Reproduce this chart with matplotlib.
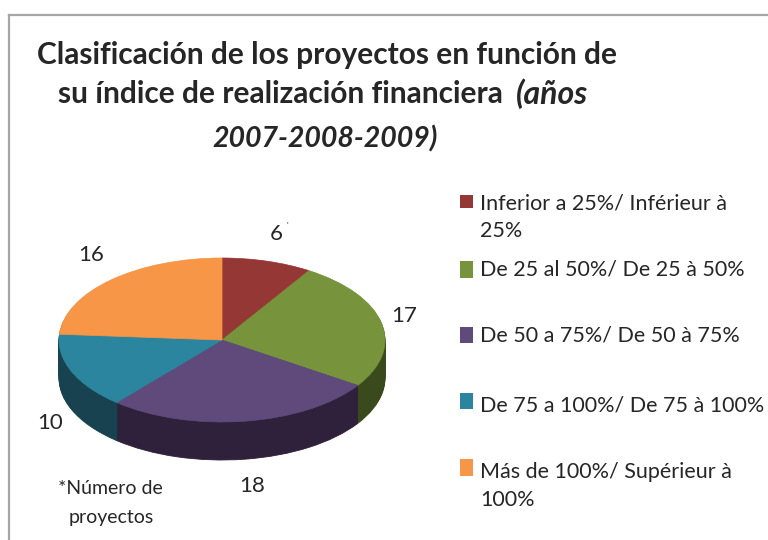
import matplotlib
matplotlib.use('Agg')
import matplotlib.pyplot as plt
from matplotlib.patches import Rectangle
from matplotlib.lines import Line2D

plt.rcParams['font.family'] = ['Lato', 'DejaVu Sans']

W = 768
H = 540

categories = ['Inferior a 25%/ Inférieur à\n25%',
              'De 25 al 50%/ De 25 à 50%',
              'De 50 a 75%/ De 50 à 75%',
              'De 75 a 100%/ De 75 à 100%',
              'Más de 100%/ Supérieur à\n100%']
values = [6, 17, 18, 10, 16]
top_colors = ['#953735', '#77933C', '#604A7B', '#2C859E', '#F79646']
side_colors = ['#4F1D1C', '#3A4A1C', '#2F213B', '#18424F', '#7F4A1E']

# pixel positions of the texts, same order as values
label_pos = [(276, 234), (404, 316), (252, 486), (50, 423), (91, 255)]
swatch_bottom = [208, 278, 343, 409, 476]
swatch_height = [13, 17, 16, 16, 17]
legend_text_y = [202, 268, 335, 404, 471]

text_color = '#262626'

# ellipse of the top face, in pixels
cx, cy = 222, 340
rx, ry = 163, 82
depth = 38

fig = plt.figure(figsize=(W / 100, H / 100), dpi=100)
ax = fig.add_axes([0, 0, 1, 1])


def px(x, y):
    return x / W, 1 - y / H


# side wall: the same pie stacked downwards, then the top face
for d in range(depth, 0, -1):
    wedges, _ = ax.pie(values, colors=side_colors, startangle=90, counterclock=False,
                       center=(0, -d / ry), radius=1)
    for w in wedges:
        w.set_edgecolor(w.get_facecolor())
        w.set_linewidth(0.6)
wedges, _ = ax.pie(values, colors=top_colors, startangle=90, counterclock=False,
                   center=(0, 0), radius=1)
for w in wedges:
    w.set_edgecolor(w.get_facecolor())
    w.set_linewidth(0.5)

ax.set_aspect('auto')
ax.set_xlim(-cx / rx, (W - cx) / rx)
ax.set_ylim((cy - H) / ry, cy / ry)
ax.axis('off')

# frame, only top and left show
fig.add_artist(Line2D([9 / W, 9 / W], [0, 1 - 15 / H], color='#A6A6A6', lw=1.6))
fig.add_artist(Line2D([9 / W, 1], [1 - 15 / H, 1 - 15 / H], color='#A6A6A6', lw=1.6))

# title
x, y = px(327, 55)
fig.text(x, y, 'Clasificación de los proyectos en función de', ha='center', va='center',
         fontsize=21.5, fontweight='bold', color=text_color)
x, y = px(58, 94)
fig.text(x, y, 'su índice de realización financiera', ha='left', va='center',
         fontsize=21.5, fontweight='bold', color=text_color)
x, y = px(516, 94)
fig.text(x, y, '(años', ha='left', va='center', fontsize=23, fontweight='bold',
         style='italic', color=text_color)
x, y = px(325, 139)
fig.text(x, y, '2007-2008-2009)', ha='center', va='center', fontsize=20.5, fontweight='bold',
         style='italic', color=text_color)

# data labels
for v, (lx, ly) in zip(values, label_pos):
    x, y = px(lx, ly)
    fig.text(x, y, str(v), ha='center', va='center', fontsize=16, color=text_color)
x, y = px(287, 225)
fig.text(x, y, "'", ha='center', va='center', fontsize=6, color=text_color)

# legend
for name, col, sb, sh, ty in zip(categories, top_colors, swatch_bottom, swatch_height, legend_text_y):
    x, y = px(460, sb)
    fig.add_artist(Rectangle((x, y), 13 / W, sh / H, transform=fig.transFigure,
                             facecolor=col, edgecolor='none'))
    x, y = px(480, ty - 9)
    fig.text(x, y, name, ha='left', va='top', fontsize=15.5, color=text_color, linespacing=1.5)

# note
x, y = px(110, 488)
fig.text(x, y, '*Número de', ha='center', va='center', fontsize=14, color=text_color)
x, y = px(111, 517)
fig.text(x, y, 'proyectos', ha='center', va='center', fontsize=14, color=text_color)

fig.savefig('out.png', dpi=100)
